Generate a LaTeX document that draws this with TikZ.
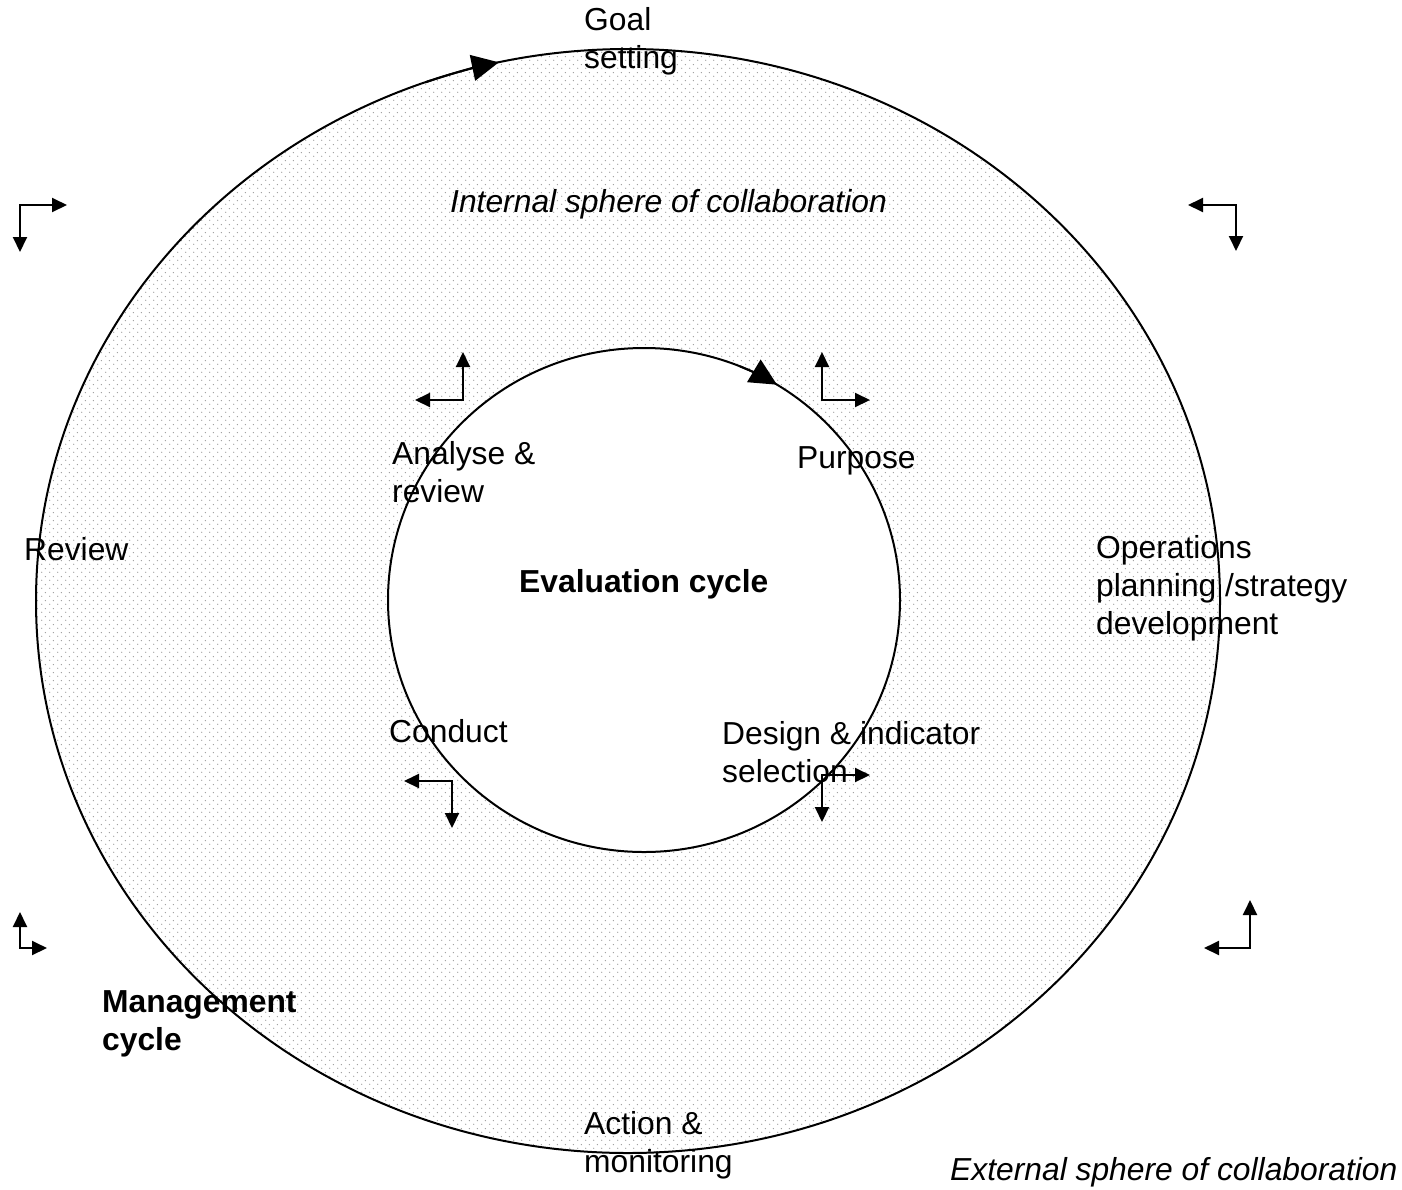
\documentclass[tikz,border=0pt]{standalone}
\usepackage{fontspec}
\setmainfont{Liberation Sans}
\usetikzlibrary{arrows.meta,patterns}
\pgfdeclarepatternformonly{mydots}{\pgfpointorigin}{\pgfqpoint{8pt}{8pt}}{\pgfqpoint{8pt}{8pt}}{%
  \pgfpathcircle{\pgfqpoint{2pt}{2pt}}{0.75pt}%
  \pgfpathcircle{\pgfqpoint{6pt}{6pt}}{0.75pt}%
  \pgfusepath{fill}}
\newcommand\larr[4]{%
  \coordinate (#1c) at (#2);
  \coordinate (#1a) at (#3);
  \coordinate (#1b) at (#4);
  \draw[larrow] (#1a) -- (#1c) -- (#1b);}
\begin{document}
\begin{tikzpicture}[x=1pt,y=-1pt,
  lbl/.style={anchor=west,inner sep=0pt,align=left,font=\fontsize{31.8}{38}\selectfont},
  larrow/.style={line width=2pt,{Triangle[length=15pt,width=14pt]}-{Triangle[length=15pt,width=14pt]}},
  ring/.style={line width=2pt},
  cyclearrow/.style={line width=2pt,-{Triangle[length=27pt,width=26pt]}}]
\useasboundingbox (0,0) rectangle (1402,1189);
% annulus fill
\fill[pattern=mydots,pattern color=gray!80,even odd rule]
  (628,601) ellipse [x radius=592pt,y radius=552pt]
  (644,600) ellipse [x radius=256pt,y radius=252pt];
\draw[ring] (628,601) ellipse [x radius=592pt,y radius=552pt];
\draw[ring] (644,600) ellipse [x radius=256pt,y radius=252pt];
\coordinate (oc) at (628,601);
\coordinate (ic) at (644,600);
% arrows on the circles
\draw[cyclearrow] ([shift={(oc)}]110:592pt and 552pt) arc[start angle=110,end angle=102.6,x radius=592pt,y radius=552pt];
\draw[cyclearrow] ([shift={(ic)}]68:256pt and 252pt) arc[start angle=68,end angle=58.7,x radius=256pt,y radius=252pt];
% L-shaped arrows
\larr{a1}{20,205}{67,205}{20,252}
\larr{a2}{1236,205}{1188,205}{1236,251}
\larr{a3}{463,400}{463,352}{415,400}
\larr{a4}{822,400}{822,352}{870,400}
\larr{a5}{452,781}{404,781}{452,828}
\larr{a6}{822,775}{870,775}{822,822}
\larr{a7}{20,948}{20,912}{47,948}
\larr{a8}{1250,948}{1250,900}{1204,948}
% labels
\node[lbl] (goal) at (584,41) {Goal\\setting};
\node[lbl] (internal) at (450,204) {\itshape Internal sphere of collaboration};
\node[lbl] (analyse) at (392,472) {Analyse \&\\review};
\node[lbl] (purpose) at (797,461) {Purpose};
\node[lbl] (review) at (24,549) {Review};
\node[lbl] (eval) at (519,584) {\bfseries Evaluation cycle};
\node[lbl] (ops) at (1096,588) {Operations\\planning /strategy\\development};
\node[lbl] (conduct) at (389,731) {Conduct};
\node[lbl] (design) at (722,752) {Design \& indicator\\selection};
\node[lbl] (mgmt) at (102,1024) {\bfseries Management\\\bfseries cycle};
\node[lbl] (action) at (584,1145) {Action \&\\monitoring};
\node[lbl] (external) at (950,1172) {\itshape External sphere of collaboration};
\end{tikzpicture}
\end{document}
